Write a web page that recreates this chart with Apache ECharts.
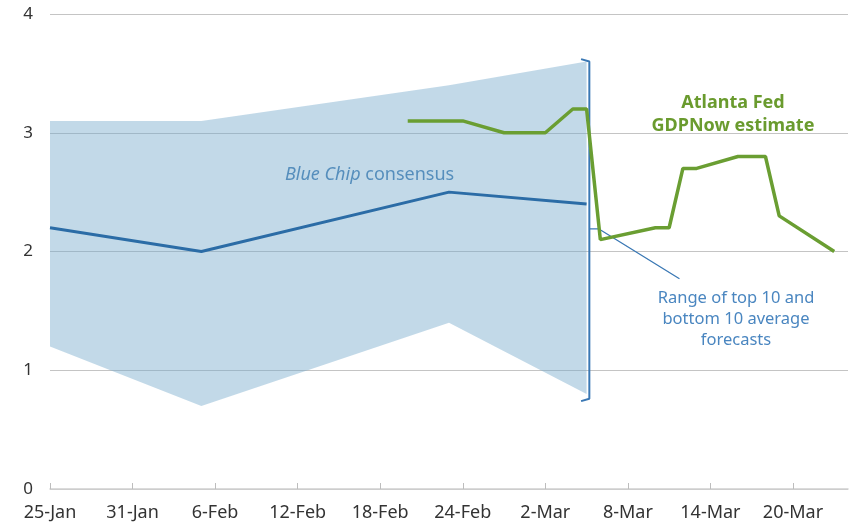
<!DOCTYPE html>
<html>
<head>
<meta charset="utf-8">
<script src="https://cdn.jsdelivr.net/npm/echarts@6/dist/echarts.min.js"></script>
<style>html,body{margin:0;padding:0;background:#fff;}#chart{width:849px;height:525px;}</style>
</head>
<body>
<div id="chart"></div>
<script>
// ---- data ----
const baseDate = '2023-01-25';
const axisMaxDate = '2023-03-24';
const tickStepDays = 6;
const consensusDates = ['2023-01-25','2023-02-05','2023-02-23','2023-03-05'];
const consensus = [2.2, 2.0, 2.5, 2.4];
const rangeUpper = [3.1, 3.1, 3.4, 3.6];
const rangeLower = [1.2, 0.7, 1.4, 0.8];
const gdpNowDates = ['2023-02-20','2023-02-24','2023-02-27','2023-03-02','2023-03-04','2023-03-05','2023-03-06','2023-03-10','2023-03-11','2023-03-12','2023-03-13','2023-03-16','2023-03-18','2023-03-19','2023-03-23'];
const gdpNow = [3.1, 3.1, 3.0, 3.0, 3.2, 3.2, 2.1, 2.2, 2.2, 2.7, 2.7, 2.8, 2.8, 2.3, 2.0];
// annotation bracket & leader (day offset, value)
const bracketDays = [38.6, 39.2, 39.2, 38.6];
const bracketVals = [3.62, 3.60, 0.76, 0.74];
const leaderDays = [39.2, 39.9, 45.75];
const leaderVals = [2.19, 2.19, 1.77];
const monthNames = ['Jan','Feb','Mar','Apr','May','Jun','Jul','Aug','Sep','Oct','Nov','Dec'];

// ---- helpers ----
const dayMs = 86400000;
const base = Date.parse(baseDate + 'T00:00:00Z');
const toDay = s => (Date.parse(s + 'T00:00:00Z') - base) / dayMs;
const pairs = (xs, ys) => xs.map((x, i) => [x, ys[i]]);

const cDays = consensusDates.map(toDay);
const gDays = gdpNowDates.map(toDay);
const bandData = cDays.map((d, i) => [d, rangeLower[i], rangeUpper[i]]);

const chart = echarts.init(document.getElementById('chart'), null, {renderer: 'canvas'});
const FONT = '"Noto Sans", "Open Sans", sans-serif';

chart.setOption({
  animation: false,
  backgroundColor: '#fff',
  grid: {left: 50, right: 1, top: 14, bottom: 36},
  xAxis: {
    type: 'value', min: 0, max: toDay(axisMaxDate), interval: tickStepDays,
    axisLine: {show: true, lineStyle: {color: '#cfcfcf', width: 1.5}},
    axisTick: {show: true, inside: true, length: 6, lineStyle: {color: '#bdbdbd'}},
    splitLine: {show: false},
    axisLabel: {
      color: '#333', fontSize: 18, fontFamily: FONT, margin: 15, showMaxLabel: false,
      formatter: v => {
        const d = new Date(base + v * dayMs);
        return d.getUTCDate() + '-' + monthNames[d.getUTCMonth()];
      }
    }
  },
  yAxis: {
    type: 'value', min: 0, max: 4, interval: 1,
    axisLine: {show: false}, axisTick: {show: false},
    splitLine: {lineStyle: {color: '#c4c4c4', width: 1.2}},
    axisLabel: {color: '#333', fontSize: 17, fontFamily: FONT, margin: 17}
  },
  series: [
    {type: 'custom', data: [0], silent: true, z: 1,
     renderItem: (params, api) => {
       const top = bandData.map(r => api.coord([r[0], r[2]]));
       const bot = bandData.slice().reverse().map(r => api.coord([r[0], r[1]]));
       return {type: 'polygon', shape: {points: top.concat(bot)},
               style: {fill: 'rgba(120,170,205,0.45)'}};
     }},
    {type: 'line', data: pairs(cDays, consensus), symbol: 'none', z: 3,
     lineStyle: {color: '#2b6ca6', width: 3}},
    {type: 'line', data: pairs(bracketDays, bracketVals), symbol: 'none', z: 3,
     lineStyle: {color: '#3a78b4', width: 2}},
    {type: 'line', data: pairs(leaderDays, leaderVals), symbol: 'none', z: 3,
     lineStyle: {color: '#3a78b4', width: 1.3}},
    {type: 'line', data: pairs(gDays, gdpNow), symbol: 'none', z: 4,
     lineStyle: {color: '#6a9e32', width: 3.5}}
  ],
  graphic: [
    {type: 'text', style: {
      text: '{i|Blue Chip} consensus', x: 285, y: 175, verticalAlign: 'middle',
      fontSize: 18, fontFamily: FONT, fill: '#3a77b0',
      rich: {i: {fontStyle: 'italic', fontSize: 18, fontFamily: FONT, fill: '#3a77b0'}}
    }},
    {type: 'text', style: {
      text: 'Atlanta Fed\nGDPNow estimate', x: 733, y: 114, align: 'center', verticalAlign: 'middle',
      fontSize: 18, fontWeight: 'bold', fontFamily: FONT, fill: '#6a9b2e', lineHeight: 23
    }},
    {type: 'text', style: {
      text: 'Range of top 10 and\nbottom 10 average\nforecasts', x: 736, y: 319, align: 'center', verticalAlign: 'middle',
      fontSize: 16.5, fontFamily: FONT, fill: '#4a86c0', lineHeight: 21
    }}
  ]
});
</script>
</body>
</html>
